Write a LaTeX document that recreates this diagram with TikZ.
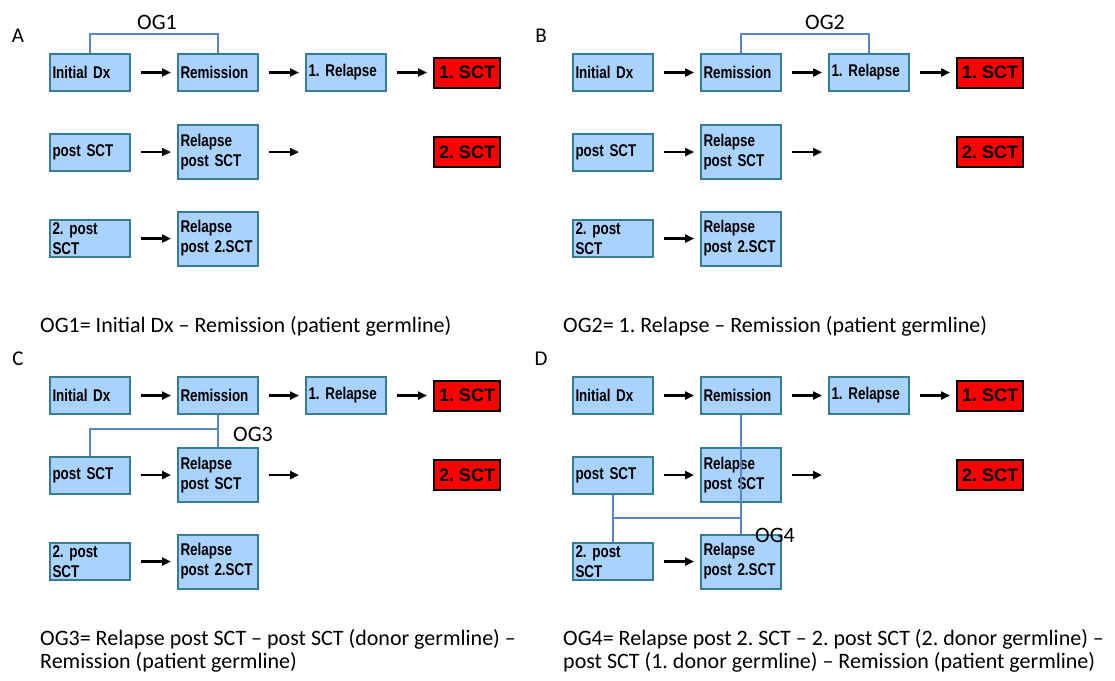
\documentclass[tikz,border=0pt]{standalone}
\usepackage{fontspec}
\setmainfont{Carlito}
\newfontfamily\boxfont[FakeStretch=0.79]{Liberation Sans}
\newfontfamily\sctfont{Liberation Sans}
\usepackage{tikz}
\usetikzlibrary{arrows.meta, positioning, calc}
\definecolor{boxfill}{HTML}{AAD2FE}
\definecolor{boxedge}{HTML}{387C93}
\definecolor{oglink}{HTML}{5B86C5}
\definecolor{sctred}{HTML}{FF0000}
\frenchspacing

\begin{document}
\begin{tikzpicture}[x=1pt, y=1pt,
  box/.style={draw=boxedge, fill=boxfill, line width=2pt, minimum width=80pt, minimum height=37pt, text width=75pt, align=left, inner xsep=2.5pt, inner ysep=0.5pt, font=\boxfont\bfseries\fontsize{17}{20}\selectfont},
  tallbox/.style={box, minimum height=54pt},
  sct/.style={draw=black, fill=sctred, line width=2pt, minimum width=66pt, minimum height=30pt, inner sep=1pt, font=\sctfont\bfseries\fontsize{18}{20}\selectfont},
  arr/.style={-{Triangle[length=9pt, width=8pt]}, line width=2.3pt, shorten <=10pt, shorten >=6pt},
  og/.style={draw=oglink, line width=2pt},
  tag/.style={font=\fontsize{21}{24}\selectfont, inner sep=0pt, anchor=base},
  oglabel/.style={font=\fontsize{22}{24}\selectfont, inner sep=0pt, anchor=base},
  caption/.style={font=\fontsize{22}{23.5}\selectfont, align=left, anchor=base west, inner sep=0pt}]
  \useasboundingbox (0,0) rectangle (1115,-680);

  % the four panels share one layout
  \foreach \p/\dx/\dy/\lbl in {a/0/0/A, b/523/0/B, c/0/-323/C, d/523/-323/D}{
    \begin{scope}[shift={(\dx,\dy)}]
      \node[tag] (\p-tag) at (18,-42) {\lbl};
      \node[box] (\p-dx) at (90,-72.5) {Initial Dx};
      \node[box, right=46pt of \p-dx] (\p-rem) {Remission};
      \node[box, right=46pt of \p-rem] (\p-rel1) {1. Relapse};
      \node[sct, right=46pt of \p-rel1] (\p-sct1) {1. SCT};
      \node[box] (\p-post) at (90,-152) {post SCT};
      \node[tallbox, right=46pt of \p-post] (\p-relpost) {Relapse\\post SCT};
      \node[sct] (\p-sct2) at (\p-sct1 |- \p-post) {2. SCT};
      \node[box] (\p-post2) at (90,-238.5) {2. post\\SCT};
      \node[tallbox, right=46pt of \p-post2] (\p-relpost2) {Relapse\\post 2.SCT};
      \coordinate (\p-open) at (\p-rel1.west |- \p-relpost);

      \draw[arr] (\p-dx) -- (\p-rem);
      \draw[arr] (\p-rem) -- (\p-rel1);
      \draw[arr] (\p-rel1) -- (\p-sct1);
      \draw[arr] (\p-post) -- (\p-relpost);
      \draw[arr] (\p-relpost) -- (\p-open);
      \draw[arr] (\p-post2) -- (\p-relpost2);
    \end{scope}
  }

  % OG1
  \draw[og] (a-dx.north) -- ++(0,19) -| (a-rem.north);
  \node[oglabel] (a-og) at (157,-29) {OG1};
  % OG2
  \draw[og] (b-rem.north) -- ++(0,19) -| (b-rel1.north);
  \node[oglabel] (b-og) at (825,-29) {OG2};
  % OG3
  \coordinate (c-join) at ([yshift=-14pt]c-rem.south);
  \draw[og] (c-rem.south) -- (c-relpost.north);
  \draw[og] (c-post.north) |- (c-join);
  \node[oglabel] (c-og) at (253,-441) {OG3};
  % OG4
  \coordinate (d-join) at ($(d-post.south)!.5!(d-post2.north)$);
  \draw[og] (d-rem.south) -- (d-relpost2.north);
  \draw[og] (d-post.south) -- (d-post2.north);
  \draw[og] (d-join) -- (d-join -| d-rem);
  \node[oglabel] (d-og) at (775,-542) {OG4};

  \node[caption] (a-cap) at (40,-332) {OG1= Initial Dx – Remission (patient germline)};
  \node[caption] (b-cap) at (563,-332) {OG2= 1. Relapse – Remission (patient germline)};
  \node[caption] (c-cap) at (40,-668.5) {OG3= Relapse post SCT – post SCT (donor germline) –\\Remission (patient germline)};
  \node[caption] (d-cap) at (563,-668.5) {OG4= Relapse post 2. SCT – 2. post SCT (2. donor germline) –\\post SCT (1. donor germline) – Remission (patient germline)};
\end{tikzpicture}
\end{document}
